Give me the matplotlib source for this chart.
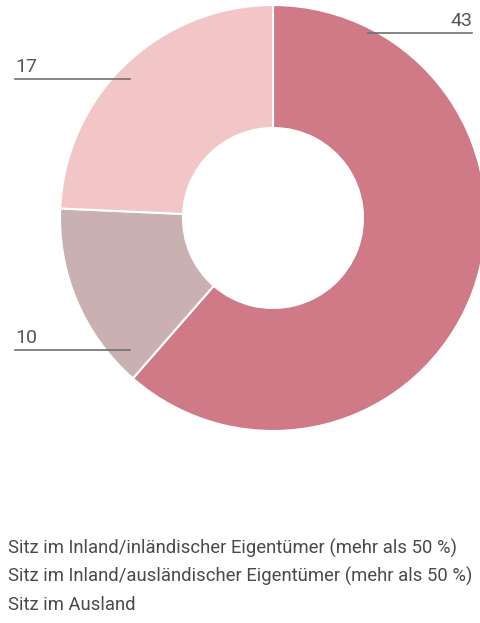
import matplotlib.pyplot as plt

werte = [43, 10, 17]
farben = ['#CF7A86', '#CBB0B2', '#F2C5C7']
legende = ['Sitz im Inland/inländischer Eigentümer (mehr als 50 %)',
           'Sitz im Inland/ausländischer Eigentümer (mehr als 50 %)',
           'Sitz im Ausland']

plt.rcParams['font.family'] = ['Roboto', 'DejaVu Sans']

H = 623
fig = plt.figure(figsize=(4.8, 6.23), dpi=100)
ax = fig.add_axes([0, 0, 1, 1])
ax.axis('off')

# donut
r = 213
ax.pie(werte, colors=farben, startangle=90, counterclock=False,
       center=(273, H - 218), radius=r,
       wedgeprops=dict(width=r - 90, edgecolor='white', linewidth=1.5))
ax.set_xlim(0, 480)
ax.set_ylim(0, H)
ax.set_aspect('equal')

# beschriftungen mit linien (x0, x1, y, ha)
linien = [(368, 472, 33, 'right'), (15, 130, 350, 'left'), (15, 130, 79, 'left')]
for w, (x0, x1, y, ha) in zip(werte, linien):
    ax.plot([x0, x1], [H - y, H - y], color='#707070', lw=1.2)
    tx = x1 if ha == 'right' else x0
    ax.text(tx, H - y + 3, str(w), ha=ha, va='bottom', fontsize=14, color='#555555')

# legende
texte = []
for i, t in enumerate(legende):
    texte.append(ax.text(8, H - (548 + i * 28.5), t, ha='left', va='center',
                         fontsize=14, color='#4a4a4a'))

# breiteste zeile auf ca. 467 px bringen
fig.canvas.draw()
rend = fig.canvas.get_renderer()
breite = max(t.get_window_extent(rend).width for t in texte)
fs = 14 * 467 / breite
for t in texte:
    t.set_fontsize(fs)

fig.savefig('out.png', dpi=100)
